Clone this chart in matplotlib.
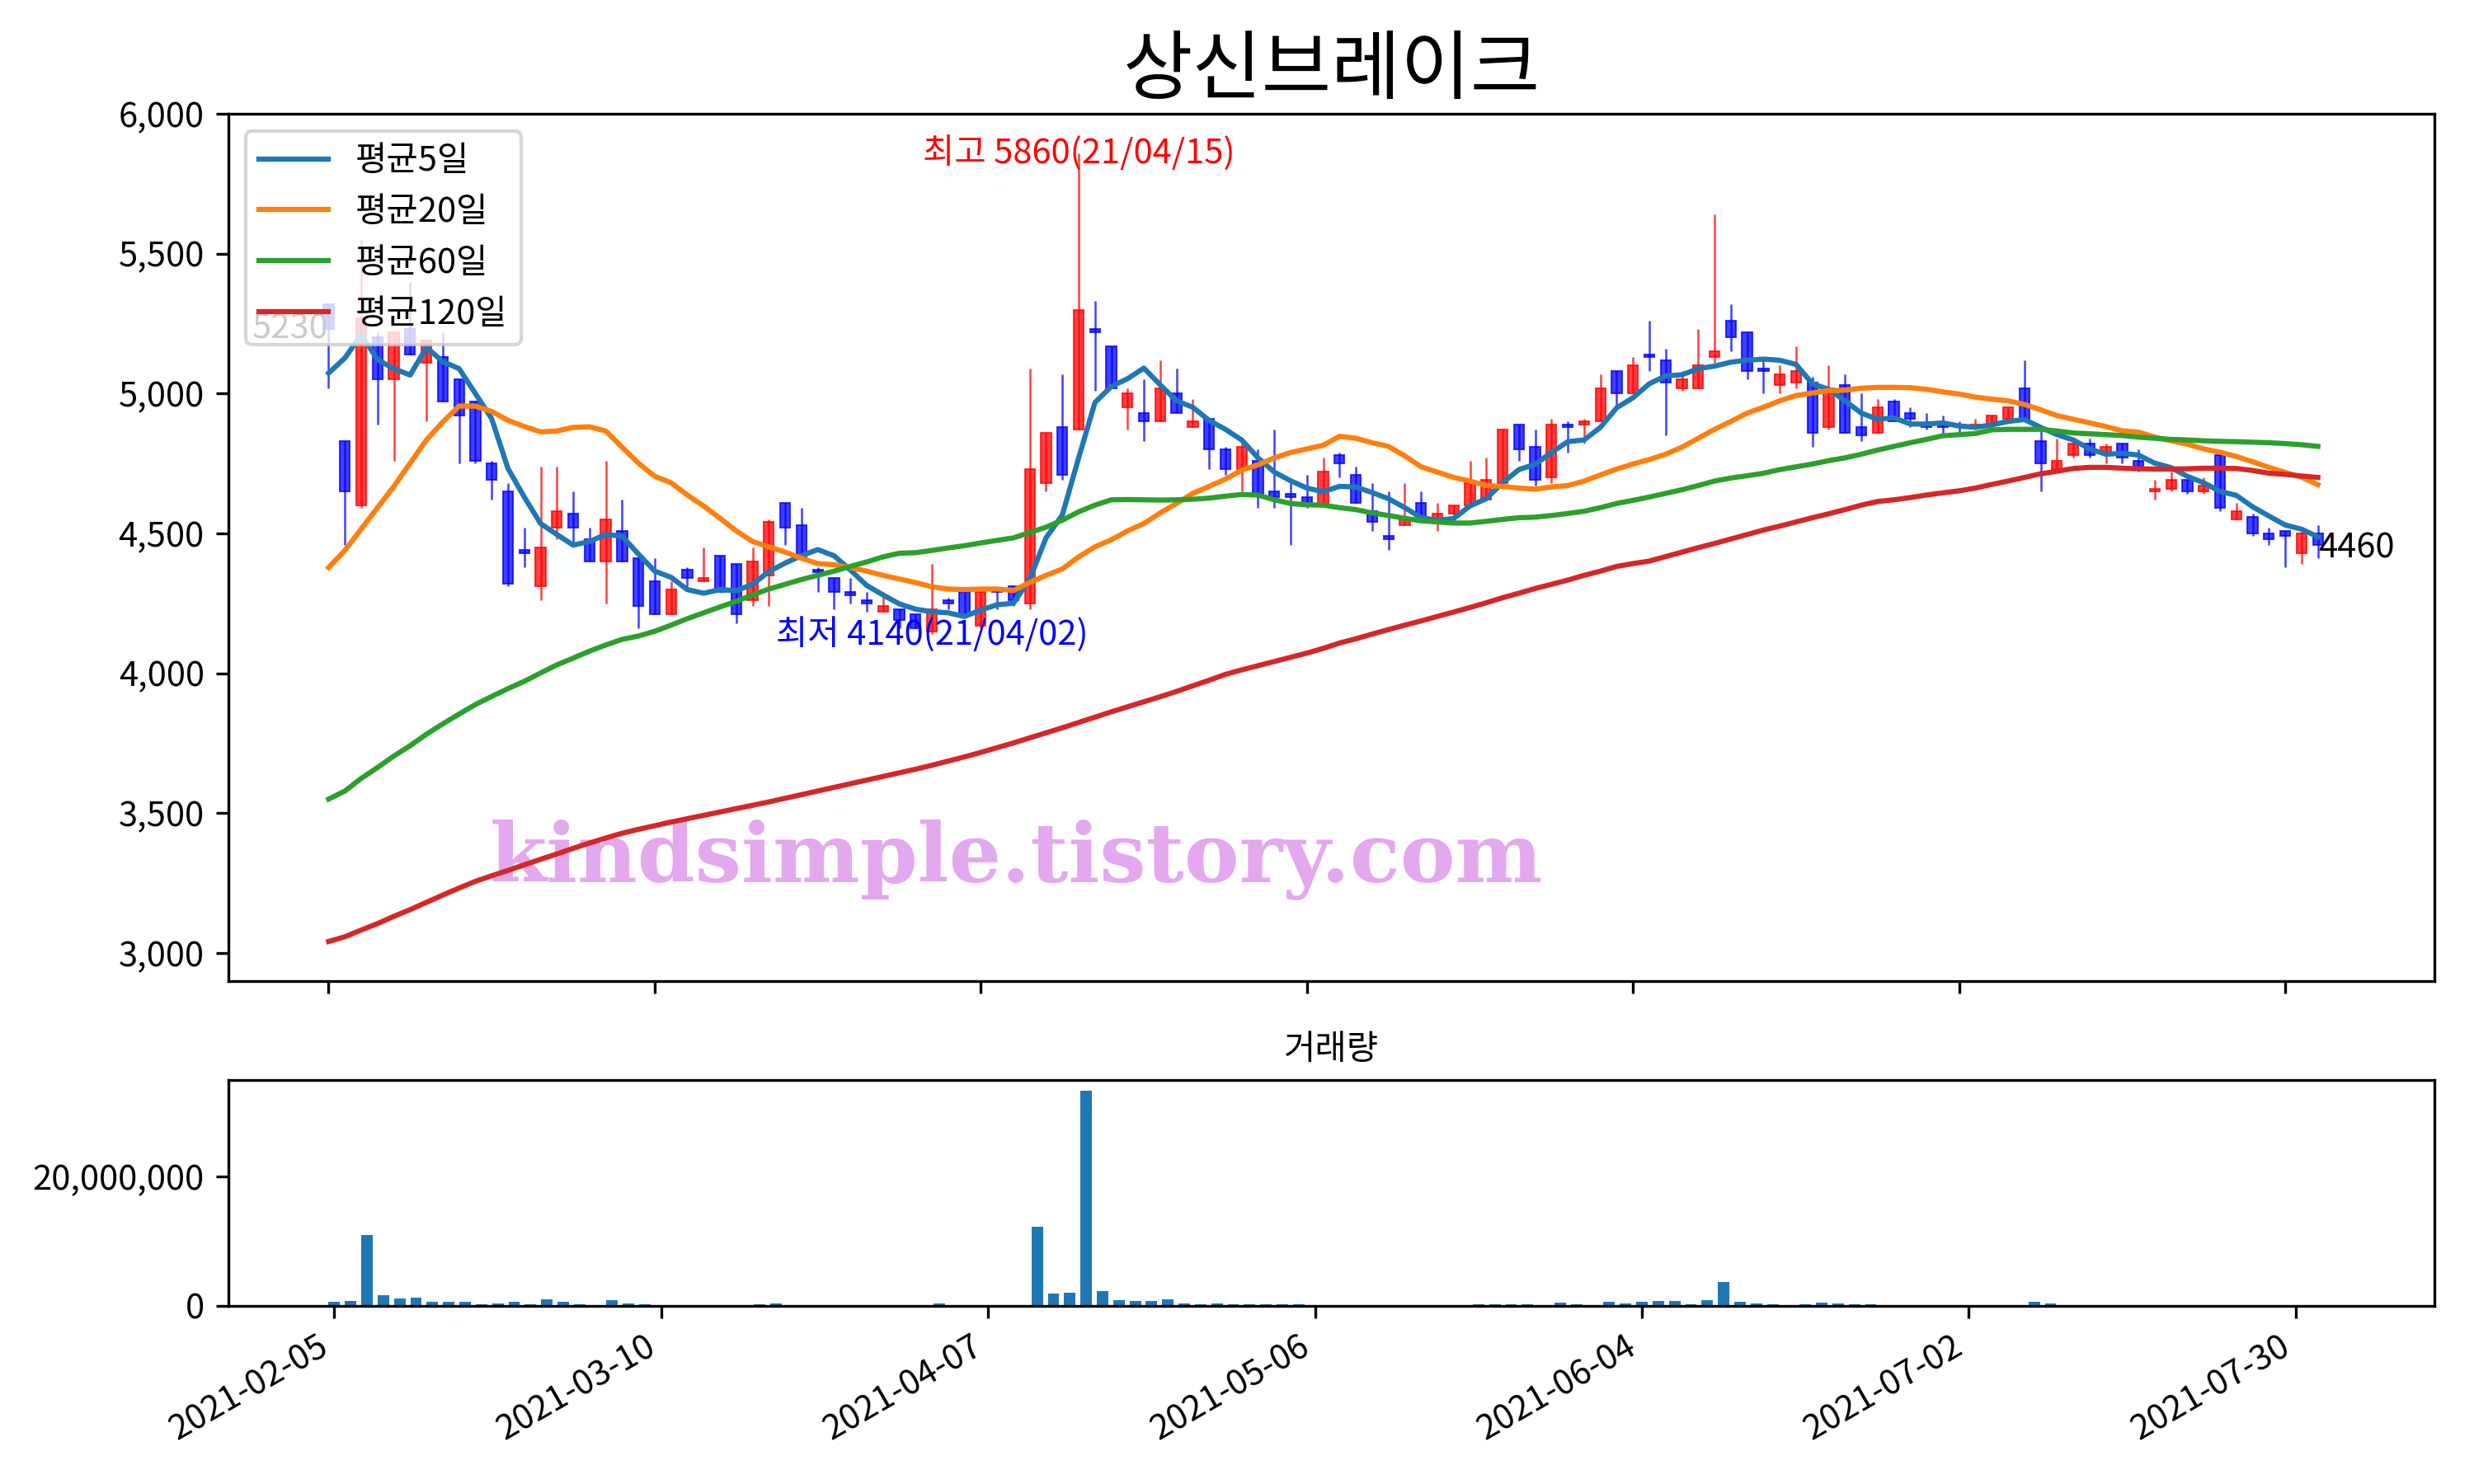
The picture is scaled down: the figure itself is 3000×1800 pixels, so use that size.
import matplotlib
matplotlib.use('Agg')
import matplotlib.pyplot as plt
from matplotlib.ticker import FuncFormatter
import numpy as np

plt.rcParams['font.family'] = ['Noto Sans CJK KR', 'DejaVu Sans']
plt.rcParams['axes.unicode_minus'] = False

title = '상신브레이크'
tick_dates = ['2021-02-05', '2021-03-10', '2021-04-07', '2021-05-06',
              '2021-06-04', '2021-07-02', '2021-07-30']

# daily prices (trading-day index 0..122)
opens = [5320, 4830, 4600, 5200, 5050, 5230, 5110, 5130, 5050, 4970,
         4750, 4650, 4440, 4310, 4520, 4570, 4480, 4400, 4510, 4410,
         4330, 4210, 4370, 4330, 4420, 4390, 4260, 4350, 4610, 4530,
         4370, 4340, 4290, 4260, 4220, 4230, 4210, 4150, 4260, 4290,
         4170, 4300, 4310, 4250, 4680, 4880, 4870, 5230, 5170, 4950,
         4930, 4900, 5000, 4880, 4910, 4800, 4730, 4760, 4650, 4640,
         4630, 4600, 4780, 4710, 4580, 4490, 4530, 4610, 4550, 4570,
         4600, 4620, 4680, 4890, 4810, 4700, 4890, 4890, 4900, 5080,
         5000, 5140, 5120, 5020, 5020, 5130, 5260, 5220, 5090, 5030,
         5040, 5040, 4880, 5030, 4880, 4860, 4970, 4930, 4890, 4890,
         4890, 4880, 4890, 4910, 5020, 4830, 4730, 4780, 4820, 4790,
         4820, 4760, 4650, 4660, 4690, 4650, 4780, 4550, 4560, 4500,
         4510, 4430, 4500]
highs = [5320, 4830, 5550, 5220, 5220, 5400, 5190, 5220, 5050, 4970,
         4760, 4680, 4520, 4740, 4740, 4650, 4520, 4760, 4620, 4410,
         4410, 4330, 4380, 4450, 4420, 4390, 4450, 4550, 4610, 4590,
         4380, 4340, 4340, 4290, 4290, 4230, 4210, 4390, 4270, 4290,
         4290, 4300, 4310, 5090, 4860, 5070, 5860, 5330, 5170, 5020,
         5050, 5120, 5090, 4980, 4910, 4810, 4840, 4800, 4870, 4680,
         4710, 4770, 4790, 4740, 4680, 4650, 4680, 4650, 4610, 4600,
         4760, 4770, 4870, 4890, 4870, 4910, 4900, 4910, 5070, 5080,
         5130, 5260, 5160, 5080, 5230, 5640, 5320, 5220, 5130, 5100,
         5170, 5060, 5100, 5070, 5000, 4980, 4980, 4950, 4930, 4920,
         4900, 4910, 4920, 4950, 5120, 4870, 4840, 4820, 4840, 4820,
         4820, 4800, 4690, 4720, 4690, 4700, 4790, 4610, 4570, 4520,
         4510, 4520, 4530]
lows = [5020, 4460, 4590, 4890, 4760, 5140, 4900, 4970, 4750, 4750,
        4620, 4310, 4380, 4260, 4480, 4460, 4400, 4250, 4400, 4160,
        4210, 4210, 4300, 4330, 4290, 4180, 4240, 4240, 4460, 4410,
        4290, 4230, 4250, 4220, 4220, 4160, 4160, 4140, 4230, 4210,
        4160, 4230, 4240, 4230, 4650, 4690, 4870, 5010, 5020, 4870,
        4830, 4900, 4930, 4880, 4730, 4710, 4650, 4590, 4590, 4460,
        4590, 4600, 4700, 4610, 4510, 4440, 4530, 4560, 4510, 4560,
        4600, 4620, 4670, 4760, 4670, 4680, 4790, 4820, 4900, 4950,
        5000, 5080, 4850, 5010, 5020, 5110, 5150, 5050, 5000, 5000,
        5020, 4810, 4870, 4860, 4830, 4860, 4900, 4880, 4870, 4850,
        4860, 4870, 4870, 4900, 4910, 4650, 4730, 4770, 4770, 4750,
        4750, 4720, 4620, 4650, 4640, 4640, 4580, 4550, 4490, 4460,
        4380, 4390, 4410]
closes = [5230, 4650, 5270, 5050, 5220, 5140, 5190, 4970, 4920, 4760,
          4690, 4320, 4430, 4450, 4580, 4520, 4400, 4550, 4400, 4240,
          4210, 4300, 4340, 4340, 4290, 4210, 4400, 4540, 4520, 4410,
          4360, 4290, 4280, 4250, 4240, 4190, 4160, 4230, 4250, 4210,
          4290, 4290, 4260, 4730, 4860, 4710, 5300, 5220, 5020, 5000,
          4900, 5020, 4930, 4900, 4800, 4730, 4810, 4640, 4630, 4630,
          4600, 4720, 4750, 4610, 4540, 4480, 4550, 4560, 4570, 4600,
          4680, 4690, 4870, 4800, 4690, 4890, 4880, 4900, 5020, 5000,
          5100, 5130, 5040, 5050, 5100, 5150, 5200, 5080, 5080, 5070,
          5080, 4860, 5020, 4860, 4850, 4950, 4900, 4910, 4880, 4880,
          4880, 4890, 4920, 4950, 4910, 4750, 4760, 4820, 4780, 4810,
          4770, 4740, 4660, 4690, 4650, 4670, 4590, 4580, 4500, 4480,
          4490, 4500, 4460]
volumes = [590000, 760000, 11000000, 1610000, 1100000, 1230000, 590000, 590000, 590000, 210000,
           340000, 590000, 210000, 970000, 590000, 210000, 80000, 850000, 340000, 210000,
           90000, 90000, 90000, 90000, 90000, 90000, 210000, 340000, 90000, 90000,
           90000, 90000, 90000, 90000, 90000, 90000, 90000, 340000, 100000, 100000,
           100000, 100000, 100000, 12300000, 1860000, 1990000, 33260000, 2250000, 850000, 720000,
           720000, 970000, 340000, 210000, 340000, 210000, 210000, 210000, 210000, 210000,
           90000, 90000, 90000, 90000, 90000, 90000, 90000, 90000, 90000, 90000,
           210000, 210000, 210000, 210000, 90000, 470000, 210000, 90000, 590000, 340000,
           590000, 720000, 720000, 210000, 850000, 3640000, 590000, 340000, 210000, 90000,
           210000, 470000, 340000, 210000, 210000, 80000, 80000, 80000, 80000, 80000,
           80000, 80000, 80000, 80000, 590000, 340000, 80000, 80000, 80000, 80000,
           80000, 80000, 80000, 80000, 80000, 80000, 80000, 80000, 80000, 80000,
           80000, 80000, 80000]

# moving averages
ma5 = [5073, 5127, 5210, 5121, 5089, 5066, 5165, 5114, 5089, 5000,
       4910, 4732, 4630, 4535, 4496, 4458, 4471, 4496, 4490, 4426,
       4365, 4343, 4299, 4286, 4299, 4295, 4318, 4363, 4394, 4420,
       4442, 4420, 4369, 4314, 4280, 4248, 4229, 4220, 4216, 4203,
       4226, 4245, 4250, 4337, 4484, 4566, 4770, 4968, 5025, 5053,
       5091, 5031, 4974, 4951, 4904, 4872, 4834, 4770, 4719, 4688,
       4662, 4649, 4668, 4666, 4646, 4624, 4592, 4556, 4547, 4553,
       4598, 4624, 4681, 4728, 4747, 4789, 4828, 4834, 4879, 4949,
       4985, 5035, 5063, 5067, 5089, 5098, 5112, 5119, 5123, 5119,
       5104, 5035, 5015, 4974, 4930, 4908, 4913, 4891, 4891, 4895,
       4884, 4879, 4888, 4900, 4907, 4879, 4853, 4834, 4802, 4783,
       4786, 4780, 4751, 4735, 4704, 4681, 4650, 4636, 4595, 4562,
       4530, 4515, 4488]
ma20 = [4378, 4439, 4516, 4592, 4668, 4751, 4834, 4898, 4955, 4955,
        4936, 4904, 4882, 4863, 4866, 4879, 4881, 4866, 4808, 4751,
        4704, 4681, 4637, 4598, 4554, 4509, 4471, 4452, 4433, 4411,
        4392, 4388, 4378, 4365, 4350, 4337, 4324, 4309, 4301, 4299,
        4301, 4301, 4296, 4324, 4350, 4373, 4416, 4452, 4477, 4509,
        4535, 4573, 4607, 4643, 4668, 4694, 4726, 4745, 4770, 4789,
        4802, 4815, 4847, 4840, 4824, 4811, 4777, 4738, 4719, 4700,
        4687, 4671, 4668, 4662, 4658, 4666, 4671, 4687, 4709, 4730,
        4748, 4764, 4783, 4808, 4840, 4872, 4900, 4930, 4951, 4974,
        4993, 5002, 5010, 5012, 5019, 5022, 5022, 5021, 5015, 5006,
        4998, 4987, 4980, 4974, 4961, 4942, 4921, 4908, 4895, 4882,
        4867, 4862, 4844, 4831, 4819, 4802, 4790, 4775, 4756, 4736,
        4718, 4701, 4674]
ma60 = [3550, 3579, 3624, 3663, 3704, 3741, 3782, 3819, 3854, 3888,
        3917, 3945, 3971, 4001, 4030, 4054, 4079, 4101, 4121, 4133,
        4150, 4172, 4195, 4216, 4237, 4257, 4280, 4301, 4318, 4335,
        4350, 4365, 4382, 4398, 4416, 4429, 4431, 4439, 4448, 4456,
        4466, 4475, 4484, 4503, 4522, 4547, 4577, 4601, 4620, 4621,
        4620, 4619, 4620, 4622, 4626, 4633, 4639, 4637, 4620, 4607,
        4602, 4601, 4592, 4585, 4573, 4564, 4554, 4545, 4541, 4537,
        4537, 4543, 4550, 4556, 4558, 4564, 4571, 4579, 4592, 4607,
        4618, 4630, 4643, 4656, 4671, 4687, 4698, 4706, 4715, 4728,
        4738, 4748, 4760, 4770, 4783, 4798, 4811, 4824, 4836, 4849,
        4853, 4857, 4870, 4872, 4872, 4872, 4866, 4859, 4856, 4853,
        4850, 4844, 4840, 4836, 4834, 4831, 4829, 4828, 4826, 4824,
        4821, 4817, 4811]
ma120 = [3041, 3058, 3082, 3105, 3131, 3155, 3181, 3207, 3232, 3256,
         3276, 3295, 3315, 3335, 3354, 3374, 3393, 3411, 3428, 3442,
         3455, 3468, 3480, 3492, 3504, 3516, 3528, 3540, 3553, 3566,
         3579, 3592, 3605, 3618, 3631, 3644, 3657, 3671, 3686, 3701,
         3717, 3734, 3751, 3769, 3787, 3805, 3824, 3843, 3862, 3880,
         3898, 3916, 3935, 3955, 3975, 3996, 4012, 4027, 4042, 4057,
         4072, 4089, 4108, 4123, 4140, 4156, 4172, 4187, 4203, 4219,
         4235, 4252, 4270, 4286, 4303, 4318, 4333, 4350, 4365, 4382,
         4392, 4401, 4417, 4433, 4449, 4464, 4480, 4496, 4512, 4526,
         4541, 4556, 4570, 4585, 4601, 4614, 4620, 4628, 4637, 4645,
         4652, 4662, 4675, 4687, 4700, 4713, 4722, 4732, 4736, 4736,
         4733, 4731, 4730, 4730, 4731, 4733, 4733, 4732, 4725, 4715,
         4711, 4705, 4700]

high_label = '최고 5860(21/04/15)'
low_label = '최저 4140(21/04/02)'
high_idx, low_idx = 46, 37

idx = np.arange(len(closes))
o = np.array(opens)
c = np.array(closes)
colors = np.where(c >= o, 'r', 'b')

fig = plt.figure(figsize=(10, 6), dpi=300)
ax = fig.add_axes([0.0923, 0.339, 0.8917, 0.5845])
ax2 = fig.add_axes([0.0923, 0.12, 0.8917, 0.1522])

# candles
ax.vlines(idx, lows, highs, colors=colors, linewidth=0.6, alpha=0.75)
ax.bar(idx, c - o, bottom=o, width=0.62, color=colors, edgecolor=colors,
       linewidth=0.5, alpha=0.75)

ax.plot(idx, ma5, label='평균5일')
ax.plot(idx, ma20, label='평균20일')
ax.plot(idx, ma60, label='평균60일')
ax.plot(idx, ma120, label='평균120일')

ax.text(high_idx, highs[high_idx], high_label, color='r', ha='center', va='center')
ax.text(low_idx, lows[low_idx], low_label, color='b', ha='center', va='center')
ax.text(0, closes[0], str(closes[0]), ha='right', va='center')
ax.text(idx[-1], closes[-1], str(closes[-1]), ha='left', va='center_baseline')
ax.text(0.357, 0.14, 'kindsimple.tistory.com', transform=ax.transAxes,
        fontsize=24, fontweight='bold', family='DejaVu Serif',
        color='#e4a8ef', ha='center', va='center', zorder=1)

ax.set_xlim(-6.15, 129.15)
ax.set_xticks(range(0, 121, 20))
ax.set_xticklabels([])
ax.yaxis.set_major_formatter(FuncFormatter(lambda v, p: '{:,.0f}'.format(v)))
ax.legend(loc='upper left')
ax.set_title(title, fontsize=22)

# volume
ax2.bar(idx, volumes, width=0.7)
ax2.set_title('거래량', fontsize=10)
ax2.set_yticks([0, 20000000])
ax2.yaxis.set_major_formatter(FuncFormatter(lambda v, p: '{:,.0f}'.format(v)))
ax2.set_xticks(range(0, 121, 20))
ax2.set_xticklabels(tick_dates, rotation=30, ha='right')

fig.savefig('out.png')
